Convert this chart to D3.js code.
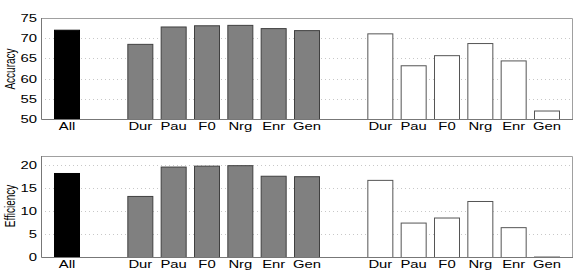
<!DOCTYPE html>
<html><head><meta charset="utf-8">
<script src="https://cdn.jsdelivr.net/npm/d3@7"></script>
<style>body{margin:0;background:#fff}svg{display:block}text{font-family:"Liberation Sans",Arial,sans-serif;fill:#000}</style>
</head><body><svg id="c" width="578" height="279"></svg>
<script>
const categories = ["All","Dur","Pau","F0","Nrg","Enr","Gen","Dur","Pau","F0","Nrg","Enr","Gen"];
const groups = [0,1,1,1,1,1,1,2,2,2,2,2,2];
const accuracy = [72.1, 68.6, 72.9, 73.2, 73.3, 72.5, 72.0, 71.2, 63.3, 65.8, 68.8, 64.5, 52.1];
const efficiency = [18.3, 13.3, 19.7, 19.9, 20.0, 17.7, 17.6, 16.8, 7.5, 8.6, 12.2, 6.5, 0.1];
const accTicks = [50,55,60,65,70,75];
const effTicks = [0,5,10,15,20];

const svg = d3.select("#c");
const groupGap = 2.2;
// bar position in slot units
const pos = [];
{ let p = 0; for (let i=0;i<categories.length;i++){ if(i>0){ p += (groups[i]!==groups[i-1]) ? groupGap : 1; } pos.push(p); } }
const left = 41, right = 573;
const x = d3.scaleLinear().domain([-0.78, pos[pos.length-1] + 0.78]).range([left, right]);
const bw = x(0.78) - x(0);
const fills = ["#000000", "#808080", "#ffffff"];
const strokes = ["#000000", "#404040", "#555555"];
const SX = 1.35;

function panel(vals, domain, ticks, top, bottom, label, labelY) {
  const y = d3.scaleLinear().domain(domain).range([bottom, top]);
  const g = svg.append("g");
  // grid
  g.selectAll("line.grid").data(ticks.filter(t => t !== domain[0] && t !== domain[1])).enter()
    .append("line").attr("x1", left).attr("x2", right)
    .attr("y1", d => Math.round(y(d)) + 0.5).attr("y2", d => Math.round(y(d)) + 0.5)
    .attr("stroke", "#c8c8c8").attr("stroke-width", 1).attr("stroke-dasharray", "1,3");
  // frame top/right
  g.append("path").attr("d", `M${left},${top+0.5}H${right-0.5}V${bottom}`)
    .attr("fill","none").attr("stroke","#a0a0a0");
  // bars
  g.selectAll("rect.bar").data(vals).enter().append("rect")
    .attr("x", (d,i) => x(pos[i]) - bw/2 + 0.5)
    .attr("width", bw - 1)
    .attr("y", d => y(d) + 0.5)
    .attr("height", d => Math.max(0, y(domain[0]) - y(d)))
    .attr("fill", (d,i) => fills[groups[i]])
    .attr("stroke", (d,i) => strokes[groups[i]]).attr("stroke-width", 1);
  // axes
  g.append("path").attr("d", `M${left+0.5},${top}V${bottom+0.5}H${right}`)
    .attr("fill","none").attr("stroke","#777");
  // y tick labels
  g.selectAll("text.yt").data(ticks).enter().append("text")
    .attr("transform", d => `translate(37,${y(d)}) scale(${SX},1)`)
    .attr("text-anchor","end").attr("dy","0.36em")
    .attr("font-size", 11).text(d => d);
  // x tick labels
  g.selectAll("text.xt").data(categories).enter().append("text")
    .attr("transform", (d,i) => `translate(${x(pos[i])},${bottom + 11}) scale(${SX},1)`)
    .attr("text-anchor","middle").attr("font-size", 11).text(d => d);
  // y label
  g.append("text").attr("transform", `translate(14.5,${labelY}) scale(1.55,1) rotate(-90)`)
    .attr("text-anchor","middle").attr("font-size", 10).text(label);
}
panel(accuracy, [50,75], accTicks, 18, 119, "Accuracy", 69);
panel(efficiency, [0,22], effTicks, 156, 257, "Efficiency", 206);
</script></body></html>
